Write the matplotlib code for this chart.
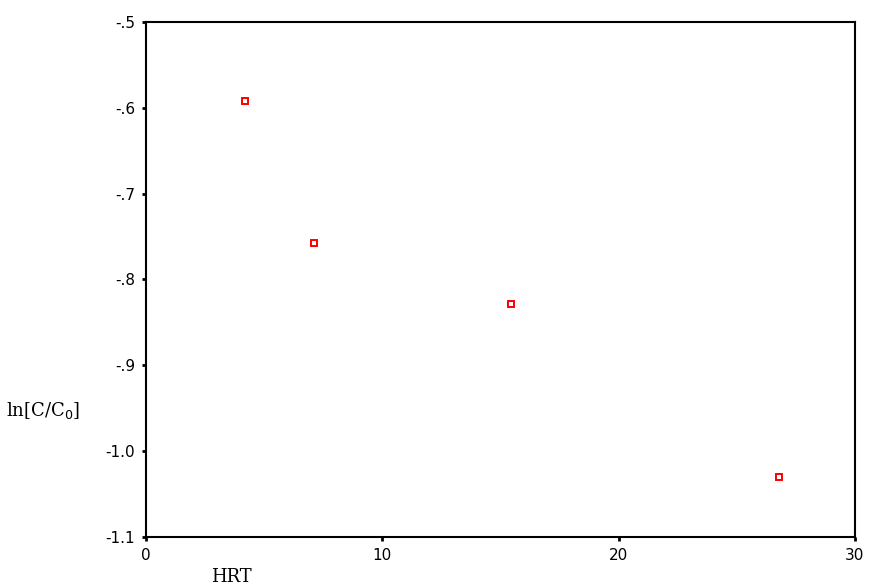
import matplotlib.pyplot as plt

hrt = [4.2, 7.1, 15.45, 26.8]
ln_ratio = [-0.592, -0.758, -0.828, -1.030]
yticks = [-0.5, -0.6, -0.7, -0.8, -0.9, -1.0, -1.1]
ytick_labels = ['-.5', '-.6', '-.7', '-.8', '-.9', '-1.0', '-1.1']
xticks = [0, 10, 20, 30]

fig = plt.figure(figsize=(8.76, 5.86), dpi=100)
ax = fig.add_axes([0.1667, 0.0836, 0.8093, 0.8789])

ax.plot(hrt, ln_ratio, linestyle='none', marker='s', markersize=5,
        markerfacecolor='white', markeredgecolor='red', markeredgewidth=1.4)

ax.set_xlim(0, 30)
ax.set_ylim(-1.1, -0.5)
ax.set_xticks(xticks)
ax.set_xticklabels([str(t) for t in xticks])
ax.set_yticks(yticks)
ax.set_yticklabels(ytick_labels)
ax.tick_params(direction='out', length=3, width=2, labelsize=11, pad=5)
for s in ax.spines.values():
    s.set_linewidth(1.5)

ax.set_xlabel('HRT', family='DejaVu Serif', fontsize=13)
ax.xaxis.set_label_coords(0.12, -0.06)
ax.set_ylabel('ln[C/C$_0$]', family='DejaVu Serif', fontsize=13, rotation=0,
              va='center')
ax.yaxis.set_label_coords(-0.145, 0.245)

fig.savefig('out.png', dpi=100)
